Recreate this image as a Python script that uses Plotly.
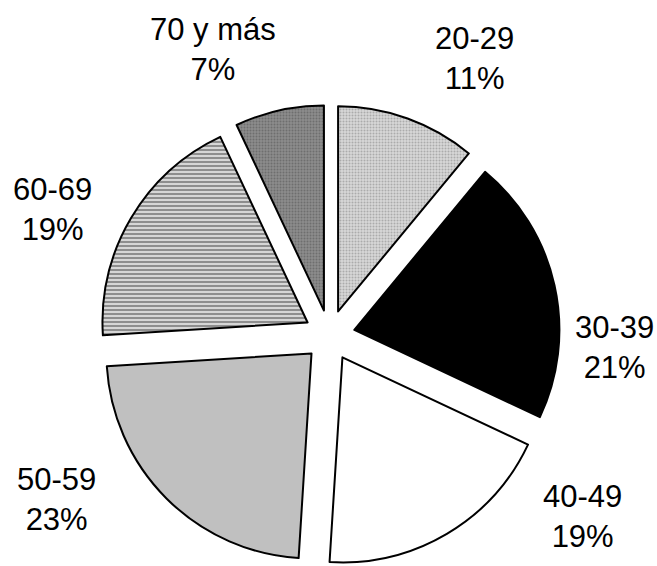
import math
import plotly.graph_objects as go

# ---- data ----
categories = ["20-29", "30-39", "40-49", "50-59", "60-69", "70 y más"]
shares = [11, 21, 19, 23, 19, 7]

# ---- styles ----
W, H = 657, 566
fill_colors = ["#cbcbcb", "#000000", "#ffffff", "#c0c0c0", "#b8b8b8", "#808080"]
pattern_shapes = [".", "", "", "", "-", "."]
pattern_fg = ["#ababab", "#000000", "#ffffff", "#c0c0c0", "#8e8e8e", "#6e6e6e"]
pattern_bg = ["#d8d8d8", "#000000", "#ffffff", "#c0c0c0", "#d6d6d6", "#8c8c8c"]
pattern_size = [3, 8, 8, 8, 4, 3]
pattern_solidity = [0.35, 0.3, 0.3, 0.3, 0.5, 0.35]
pull = 0.124
dom_x = [0.1506, 0.8524]
dom_y = [0.0, 0.8148]
# label placement: distance from pie centre (px) and turn from slice bisector (deg)
label_dist = [313, 285, 311, 318, 304, 309]
label_turn = [7.9, 15.0, -23.7, 14.0, -6.1, -9.6]
font_family = "Liberation Sans, Arial, sans-serif"

fig = go.Figure(
    go.Pie(
        labels=categories,
        values=shares,
        sort=False,
        direction="clockwise",
        rotation=0,
        pull=[pull] * len(shares),
        textinfo="none",
        hoverinfo="none",
        domain=dict(x=dom_x, y=dom_y),
        marker=dict(
            colors=fill_colors,
            line=dict(color="#000000", width=2),
            pattern=dict(
                shape=pattern_shapes,
                fgcolor=pattern_fg,
                bgcolor=pattern_bg,
                size=pattern_size,
                solidity=pattern_solidity,
                fillmode="replace",
            ),
        ),
        showlegend=False,
    )
)

# pie centre in pixels (plotly centres the pie in its domain box)
cx = W * (dom_x[0] + dom_x[1]) / 2
cy = H * (1 - dom_y[0]) - H * (dom_y[1] - dom_y[0]) / 2

total = sum(shares)
acc = 0
annotations = []
for i, (cat, v) in enumerate(zip(categories, shares)):
    mid = (acc + v / 2) / total * 360
    acc += v
    ang = math.radians(mid + label_turn[i])
    px = cx + label_dist[i] * math.sin(ang)
    py = cy - label_dist[i] * math.cos(ang)
    annotations.append(
        dict(
            x=px / W,
            y=1 - py / H,
            xref="paper",
            yref="paper",
            text=f"{cat}<br>{round(v / total * 100)}%",
            showarrow=False,
            xanchor="center",
            yanchor="middle",
            align="center",
            font=dict(family=font_family, size=31, color="#000000"),
        )
    )

fig.update_layout(
    width=W,
    height=H,
    margin=dict(l=0, r=0, t=0, b=0),
    paper_bgcolor="#ffffff",
    plot_bgcolor="#ffffff",
    annotations=annotations,
    font=dict(family=font_family),
)

fig.write_html("out.html")
